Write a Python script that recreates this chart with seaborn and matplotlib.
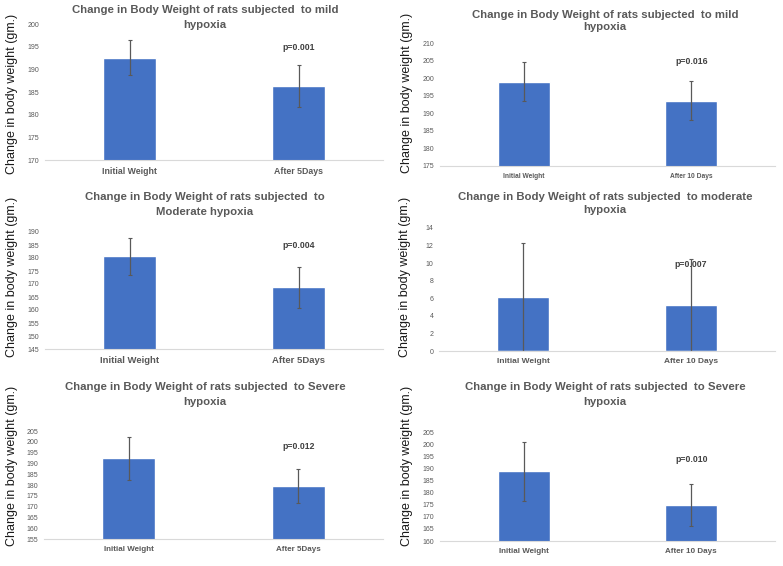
import matplotlib
matplotlib.use("Agg")
import matplotlib.pyplot as plt
import seaborn as sns
import numpy as np
import pandas as pd

# ---- data ----
titles = [
    "Change in Body Weight of rats subjected  to mild\nhypoxia",
    "Change in Body Weight of rats subjected  to mild\nhypoxia",
    "Change in Body Weight of rats subjected  to\nModerate hypoxia",
    "Change in Body Weight of rats subjected  to moderate\nhypoxia",
    "Change in Body Weight of rats subjected  to Severe\nhypoxia",
    "Change in Body Weight of rats subjected  to Severe\nhypoxia",
]
groups_5d = ["Initial Weight", "After 5Days"]
groups_10d = ["Initial Weight", "After 10 Days"]
group_labels = [groups_5d, groups_10d, groups_5d, groups_10d, groups_5d, groups_10d]

mild_5d_mean = [192.6, 186.3]
mild_5d_sd = [3.8, 4.7]
mild_10d_mean = [199.0, 193.6]
mild_10d_sd = [5.5, 5.6]
moderate_5d_mean = [180.6, 168.7]
moderate_5d_sd = [7.1, 8.0]
moderate_10d_mean = [6.1, 5.2]
moderate_10d_sd = [6.2, 5.3]
severe_5d_mean = [192.3, 179.5]
severe_5d_sd = [10.0, 7.7]
severe_10d_mean = [188.7, 174.7]
severe_10d_sd = [12.1, 8.7]

means = [mild_5d_mean, mild_10d_mean, moderate_5d_mean,
         moderate_10d_mean, severe_5d_mean, severe_10d_mean]
sds = [mild_5d_sd, mild_10d_sd, moderate_5d_sd,
       moderate_10d_sd, severe_5d_sd, severe_10d_sd]

y_ranges = [(170, 200), (175, 210), (145, 190), (0, 14), (155, 205), (160, 205)]
y_steps = [5, 5, 5, 2, 5, 5]
p_values = ["p=0.001", "p=0.016", "p=0.004", "p=0.007", "p=0.012", "p=0.010"]
p_label_y = [194.9, 204.6, 185.0, 9.9, 198.0, 193.8]

# ---- layout (pixel boxes: left, right, top, bottom) ----
W, H = 783, 566
boxes = [(45, 383, 24, 160), (440, 775, 43, 166),
         (45, 383, 232, 349), (439, 775, 228, 351),
         (44, 383, 431, 539), (440, 775, 432, 541)]
title_pos = [(205, 10, 25), (605, 15, 27), (205, 197, 212),
             (605, 197, 210), (205, 387, 402), (605, 387, 402)]
ylabel_pos = [(12, 94), (407, 93), (12, 277), (405, 277), (12, 466), (407, 466)]
xtick_size = [6.3, 4.8, 6.8, 6.0, 5.8, 5.8]

sns.set_theme(style="white")
plt.rcParams["font.family"] = ["Liberation Sans", "DejaVu Sans"]

bar_color = "#4472C4"
grey = "#595959"

fig = plt.figure(figsize=(W / 100, H / 100), dpi=100)

for i in range(6):
    l, r, t, b = boxes[i]
    ax = fig.add_axes([l / W, 1 - b / H, (r - l) / W, (b - t) / H])
    df = pd.DataFrame({"group": group_labels[i], "weight": means[i]})
    sns.barplot(data=df, x="group", y="weight", color=bar_color,
                saturation=1, width=0.31, errorbar=None, ax=ax)
    ax.errorbar(x=np.arange(2), y=means[i], yerr=sds[i], fmt="none",
                ecolor=grey, elinewidth=0.9, capsize=1.5, capthick=0.8)
    lo, hi = y_ranges[i]
    ax.set_ylim(lo, hi)
    ax.set_yticks(np.arange(lo, hi + 0.1, y_steps[i]))
    ax.set_xlim(-0.5, 1.5)
    ax.set_xlabel("")
    ax.set_ylabel("")
    for s in ["top", "right", "left"]:
        ax.spines[s].set_visible(False)
    ax.spines["bottom"].set_color("#d9d9d9")
    ax.spines["bottom"].set_linewidth(0.8)
    ax.tick_params(axis="y", length=0, labelsize=5, labelcolor=grey, pad=4)
    ax.tick_params(axis="x", length=0, labelsize=xtick_size[i],
                   labelcolor=grey, pad=5)
    for lab in ax.get_xticklabels():
        lab.set_fontweight("bold")
    ax.text(1, p_label_y[i], p_values[i], ha="center", va="center",
            fontsize=6.3, fontweight="bold", color="#404040")

    cx, y1, y2 = title_pos[i]
    line1, line2 = titles[i].split("\n")
    fig.text(cx / W, 1 - y1 / H, line1, ha="center", va="center",
             fontsize=8.2, fontweight="bold", color=grey)
    fig.text(cx / W, 1 - y2 / H, line2, ha="center", va="center",
             fontsize=8.2, fontweight="bold", color=grey)
    lx, ly = ylabel_pos[i]
    fig.text(lx / W, 1 - ly / H, "Change in body weight (gm.)", rotation=90,
             ha="center", va="center", fontsize=9, color="#1a1a1a")

fig.savefig("out.png", dpi=100)
plt.close(fig)
